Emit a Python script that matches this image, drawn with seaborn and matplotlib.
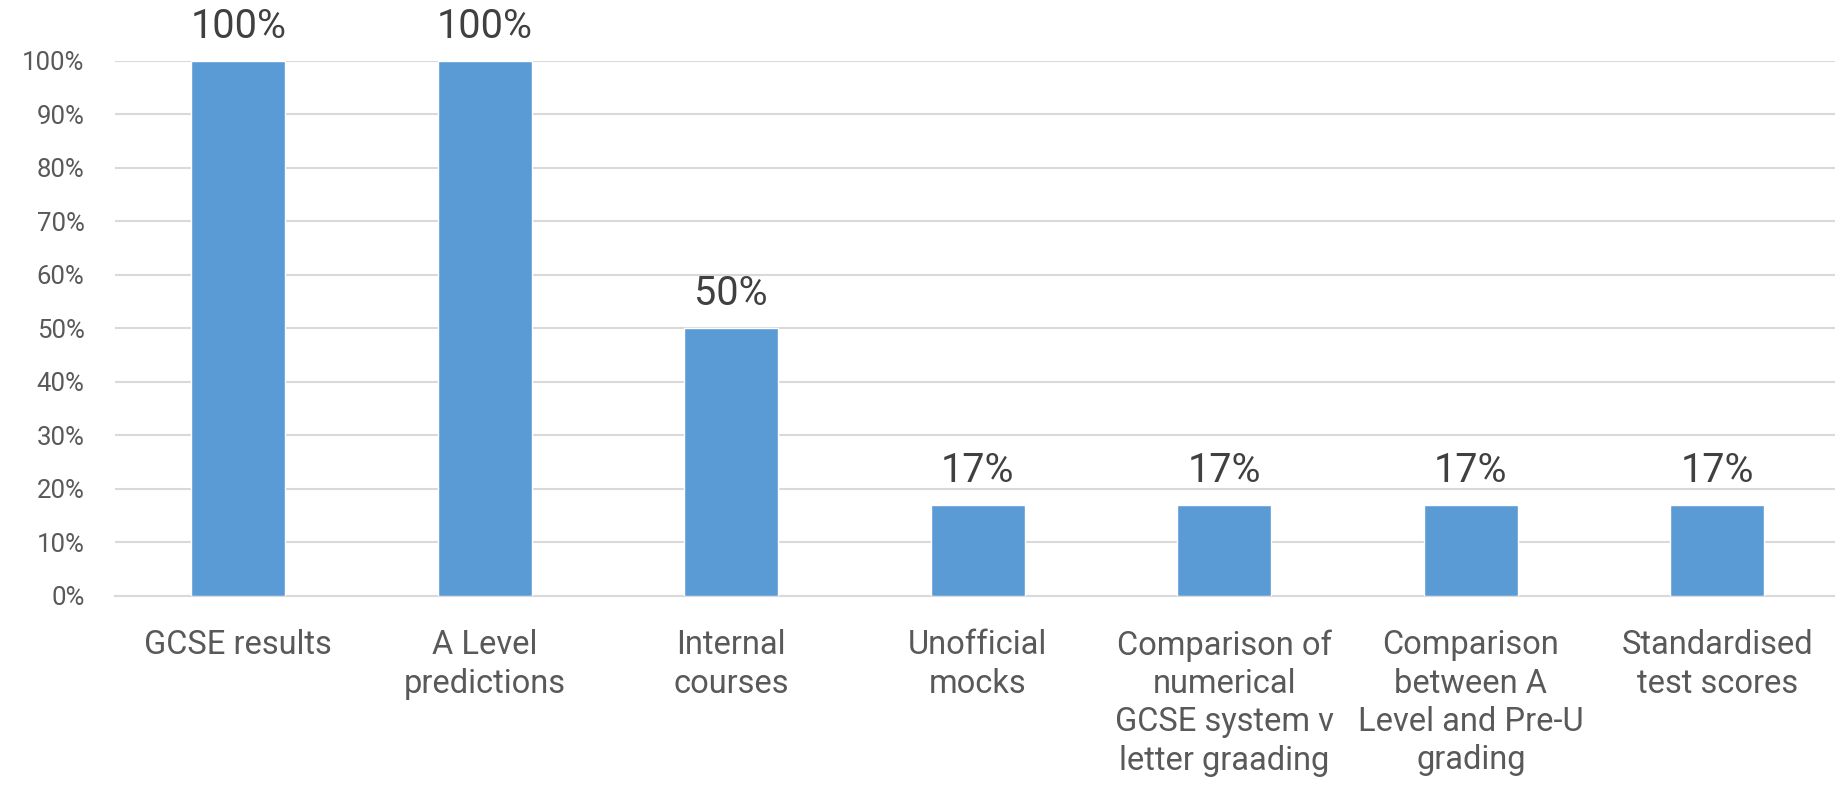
import numpy as np
import pandas as pd
import matplotlib
matplotlib.use("Agg")
import matplotlib.pyplot as plt
import seaborn as sns

# chart data
categories = [
    "GCSE results",
    "A Level\npredictions",
    "Internal\ncourses",
    "Unofficial\nmocks",
    "Comparison of\nnumerical\nGCSE system v\nletter graading",
    "Comparison\nbetween A\nLevel and Pre-U\ngrading",
    "Standardised\ntest scores",
]
shares = [1.00, 1.00, 0.50, 0.17, 0.17, 0.17, 0.17]
y_ticks = [0.0, 0.1, 0.2, 0.3, 0.4, 0.5, 0.6, 0.7, 0.8, 0.9, 1.0]

BAR = "#5B9BD5"
TEXT = "#595959"
LABEL = "#404040"
GRID = "#D9D9D9"

sns.set_theme(style="white")
plt.rcParams["font.family"] = ["Roboto", "DejaVu Sans"]

df = pd.DataFrame({"category": categories, "share": shares})

fig = plt.figure(figsize=(18.35, 7.87), dpi=100)
ax = fig.add_axes([0.0627, 0.2427, 0.9403, 0.6798])

sns.barplot(data=df, x="category", y="share", color=BAR, width=0.38,
            saturation=1, ax=ax, zorder=3)

# data labels
for c in ax.containers:
    ax.bar_label(c, labels=[f"{v:.0%}" for v in shares], padding=11,
                 fontsize=28.5, color=LABEL, clip_on=False)

ax.set_ylim(0, 1.0)
ax.set_xlim(-0.5, len(categories) - 0.5)
ax.set_yticks(y_ticks)
ax.set_yticklabels([f"{t:.0%}" for t in y_ticks])
ax.yaxis.grid(True, color=GRID, linewidth=1.5, zorder=0)
ax.set_axisbelow(True)

ax.tick_params(axis="y", length=0, pad=22, labelsize=18.5, labelcolor=TEXT)
ax.tick_params(axis="x", which="major", length=0, pad=24, labelsize=23.5,
               labelcolor=TEXT)
for t in ax.get_xticklabels():
    t.set_linespacing(1.25)
ax.set_xticks(np.arange(-0.5, len(categories)), minor=True)
ax.tick_params(axis="x", which="minor", length=7, width=1.2, color=GRID)

for s in ["top", "right", "left"]:
    ax.spines[s].set_visible(False)
ax.spines["bottom"].set_color(GRID)
ax.spines["bottom"].set_linewidth(1.5)

ax.set_xlabel("")
ax.set_ylabel("")

fig.savefig("out.png", dpi=100)
